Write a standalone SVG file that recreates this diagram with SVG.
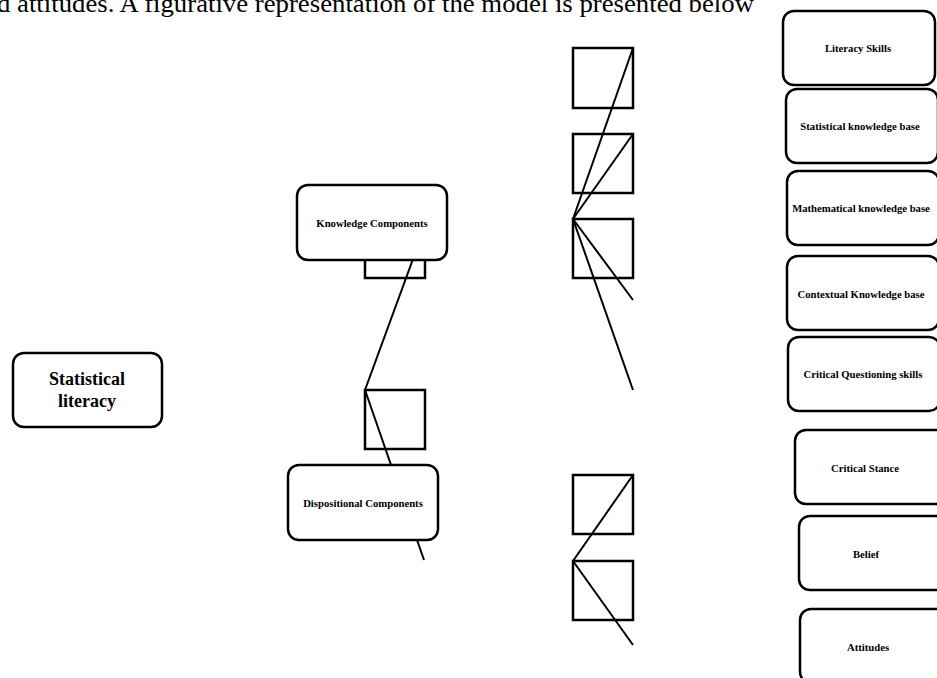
<svg xmlns="http://www.w3.org/2000/svg" width="937" height="678" viewBox="0 0 937 678">
<style>
.box{fill:#fff;stroke:#000;stroke-width:2.5}
.sq{fill:none;stroke:#000;stroke-width:2.5}
.ln{fill:none;stroke:#000;stroke-width:2}
.lbl{font-family:"Liberation Serif","Times New Roman",serif;font-weight:bold;font-size:10.7px;text-anchor:middle;fill:#000}
.big{font-family:"Liberation Serif","Times New Roman",serif;font-weight:bold;font-size:18px;text-anchor:middle;fill:#000}
.para{font-family:"Liberation Serif","Times New Roman",serif;font-size:25px;fill:#000}
</style>
<text class="para" x="-3" y="12" textLength="757" lengthAdjust="spacingAndGlyphs">d attitudes. A figurative representation of the model is presented below</text>
<g id="connectors">
<rect class="sq" x="365" y="250" width="60" height="28"/>
<line class="ln" x1="365" y1="390" x2="420" y2="240"/>
<line class="ln" x1="365" y1="390" x2="424" y2="560"/>
<rect class="sq" x="365" y="390" width="60" height="59"/>
<rect class="sq" x="573" y="48" width="60" height="60"/>
<rect class="sq" x="573" y="134" width="60" height="59"/>
<rect class="sq" x="573" y="219" width="60" height="59"/>
<line class="ln" x1="573" y1="219" x2="633" y2="48"/>
<line class="ln" x1="573" y1="219" x2="633" y2="134"/>
<line class="ln" x1="573" y1="219" x2="633" y2="300"/>
<line class="ln" x1="573" y1="219" x2="633" y2="390"/>
<rect class="sq" x="573" y="475" width="60" height="59"/>
<rect class="sq" x="573" y="561" width="60" height="59"/>
<line class="ln" x1="573" y1="561" x2="633" y2="475"/>
<line class="ln" x1="573" y1="561" x2="633" y2="645"/>
</g>
<g id="statistical-literacy">
<rect class="box" x="13" y="353" width="149" height="74" rx="11"/>
<text class="big" x="87" y="385">Statistical</text>
<text class="big" x="87" y="407">literacy</text>
</g>
<g id="knowledge-components">
<rect class="box" x="297" y="185" width="150" height="75" rx="11"/>
<text class="lbl" x="372" y="227">Knowledge Components</text>
</g>
<g id="dispositional-components">
<rect class="box" x="288" y="465" width="150" height="75" rx="11"/>
<text class="lbl" x="363" y="507">Dispositional Components</text>
</g>
<g id="literacy-skills">
<rect class="box" x="783" y="11" width="152" height="74" rx="11"/>
<text class="lbl" x="858" y="52">Literacy Skills</text>
</g>
<g id="statistical-knowledge-base">
<rect class="box" x="786" y="89" width="152" height="74" rx="11"/>
<text class="lbl" x="860" y="130">Statistical knowledge base</text>
</g>
<g id="mathematical-knowledge-base">
<rect class="box" x="787" y="171" width="152" height="74" rx="11"/>
<text class="lbl" x="861" y="212">Mathematical knowledge base</text>
</g>
<g id="contextual-knowledge-base">
<rect class="box" x="787" y="256" width="152" height="74" rx="11"/>
<text class="lbl" x="861" y="298">Contextual Knowledge base</text>
</g>
<g id="critical-questioning-skills">
<rect class="box" x="788" y="337" width="152" height="74" rx="11"/>
<text class="lbl" x="863" y="378">Critical Questioning skills</text>
</g>
<g id="critical-stance">
<rect class="box" x="795" y="430" width="152" height="74" rx="11"/>
<text class="lbl" x="865" y="472">Critical Stance</text>
</g>
<g id="belief">
<rect class="box" x="799" y="516" width="152" height="74" rx="11"/>
<text class="lbl" x="866" y="558">Belief</text>
</g>
<g id="attitudes">
<rect class="box" x="800" y="609" width="152" height="74" rx="11"/>
<text class="lbl" x="868" y="651">Attitudes</text>
</g>
</svg>
